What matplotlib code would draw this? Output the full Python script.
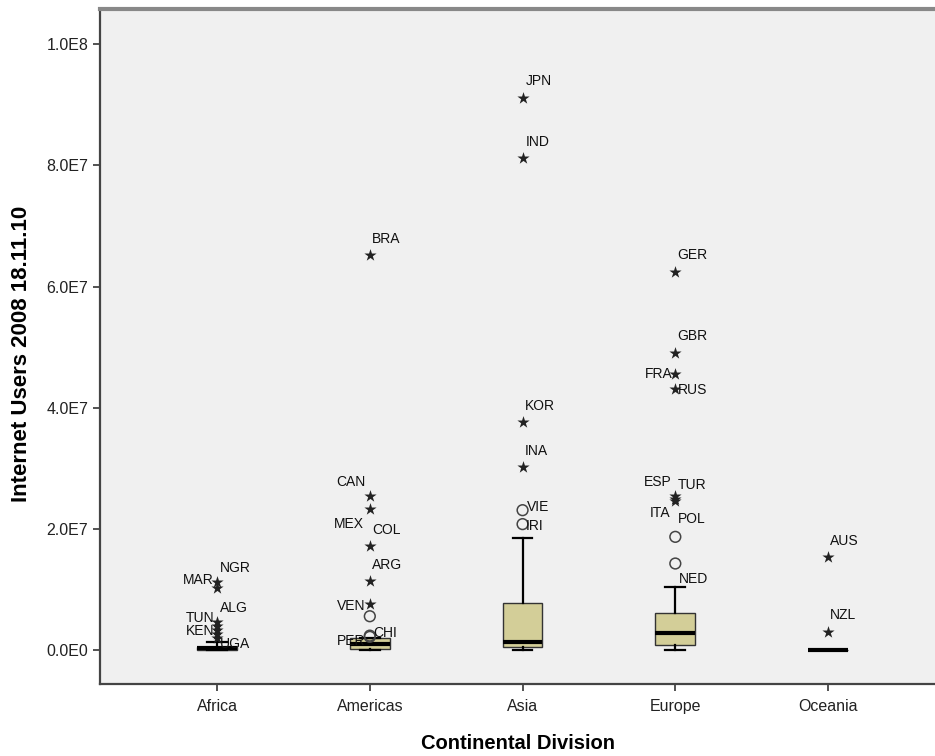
import matplotlib
matplotlib.use("Agg")
import matplotlib.pyplot as plt

plt.rcParams["font.family"] = ["Liberation Sans", "DejaVu Sans"]

# categories and box statistics (values in internet users)
continents = ["Africa", "Americas", "Asia", "Europe", "Oceania"]
whisker_lo = [0.0, 0.0, 0.0, 0.0, 0.0]
q1 = [0.01e7, 0.02e7, 0.05e7, 0.09e7, 0.0]
median = [0.03e7, 0.10e7, 0.13e7, 0.29e7, 0.0]
q3 = [0.06e7, 0.20e7, 0.78e7, 0.62e7, 0.0]
whisker_hi = [0.14e7, 0.20e7, 1.85e7, 1.04e7, 0.0]

# extreme values (stars)
star_cat = [0, 0, 0, 0, 0, 0, 0,
            1, 1, 1, 1, 1, 1,
            2, 2, 2, 2,
            3, 3, 3, 3, 3, 3, 3,
            4, 4]
star_val = [1.12e7, 1.03e7, 0.47e7, 0.40e7, 0.33e7, 0.26e7, 0.20e7,
            6.52e7, 2.54e7, 2.33e7, 1.72e7, 1.14e7, 0.76e7,
            9.11e7, 8.12e7, 3.76e7, 3.02e7,
            6.24e7, 4.90e7, 4.55e7, 4.31e7, 2.54e7, 2.50e7, 2.46e7,
            1.53e7, 0.30e7]
star_lab = ["NGR", "MAR", "ALG", "TUN", "", "KEN", "UGA",
            "BRA", "CAN", "MEX", "COL", "ARG", "VEN",
            "JPN", "IND", "KOR", "INA",
            "GER", "GBR", "FRA", "RUS", "ESP", "TUR", "ITA",
            "AUS", "NZL"]

# outliers (circles)
circ_cat = [1, 1, 1, 2, 2, 3, 3]
circ_val = [0.56e7, 0.24e7, 0.22e7, 2.31e7, 2.08e7, 1.87e7, 1.43e7]
circ_lab = ["", "CHI", "PER", "VIE", "IRI", "POL", "NED"]

yticks = [0, 2e7, 4e7, 6e7, 8e7, 1e8]
ytick_labels = ["0.0E0", "2.0E7", "4.0E7", "6.0E7", "8.0E7", "1.0E8"]

# label placement (pixel offsets from the point, alignment)
place = {
    "NGR": (3, 14, "left"), "MAR": (-3, 8, "right"), "ALG": (3, 14, "left"),
    "TUN": (-3, 8, "right"), "KEN": (-3, 3, "right"), "UGA": (3, -6, "left"),
    "BRA": (2, 16, "left"), "CAN": (-4, 14, "right"), "MEX": (-6, -15, "right"),
    "COL": (2, 16, "left"), "ARG": (2, 16, "left"), "VEN": (-4, -2, "right"),
    "JPN": (3, 17, "left"), "IND": (3, 16, "left"), "KOR": (2, 16, "left"),
    "INA": (2, 16, "left"),
    "GER": (2, 17, "left"), "GBR": (2, 17, "left"), "FRA": (-3, 0, "right"),
    "RUS": (3, -1, "left"), "ESP": (-4, 14, "right"), "TUR": (2, 14, "left"),
    "ITA": (-5, -12, "right"), "AUS": (2, 16, "left"), "NZL": (2, 17, "left"),
    "CHI": (3, 3, "left"), "PER": (-4, -4, "right"), "VIE": (4, 3, "left"),
    "IRI": (3, -2, "left"), "POL": (3, 18, "left"), "NED": (4, -15, "left"),
}

fig = plt.figure(figsize=(9.35, 7.56), dpi=100)
ax = fig.add_axes([0.107, 0.095, 0.893, 0.893])
ax.set_facecolor("#f0f0f0")

positions = list(range(1, len(continents) + 1))
stats = []
for i, name in enumerate(continents):
    stats.append({"label": name, "whislo": whisker_lo[i], "q1": q1[i],
                  "med": median[i], "q3": q3[i], "whishi": whisker_hi[i],
                  "fliers": []})

ax.bxp(stats, positions=positions, widths=0.26, patch_artist=True,
       showfliers=False,
       boxprops=dict(facecolor="#d3ce98", edgecolor="#333333", linewidth=1.0),
       medianprops=dict(color="black", linewidth=3),
       whiskerprops=dict(color="black", linewidth=1.6),
       capprops=dict(color="black", linewidth=1.6),
       capwidths=0.13)

sx = [positions[c] for c in star_cat]
ax.scatter(sx, star_val, marker="*", s=85, color="#222222", zorder=4, linewidths=0)
cx = [positions[c] for c in circ_cat]
ax.scatter(cx, circ_val, marker="o", s=60, facecolors="none",
           edgecolors="#444444", linewidths=1.1, zorder=4)

for x, v, lab in list(zip(sx, star_val, star_lab)) + list(zip(cx, circ_val, circ_lab)):
    if not lab:
        continue
    dx, dy, ha = place[lab]
    ax.annotate(lab, (x, v), xytext=(dx, dy), textcoords="offset pixels",
                ha=ha, va="center", fontsize=10, color="#111111", zorder=5)

ax.set_xlim(0.234, 5.70)
ax.set_ylim(-0.561e7, 10.578e7)
ax.set_xticks(positions)
ax.set_xticklabels(continents, fontsize=11.5, color="#222222")
ax.set_yticks(yticks)
ax.set_yticklabels(ytick_labels, fontsize=11.5, color="#222222")
ax.tick_params(axis="both", direction="out", length=5, width=1.3, color="#444444")
ax.tick_params(axis="x", pad=6)

ax.set_xlabel("Continental Division", fontsize=14.5, fontweight="bold", labelpad=14)
ax.set_ylabel("Internet Users 2008 18.11.10", fontsize=16, fontweight="bold")
ax.yaxis.set_label_coords(-0.081, 0.49)

for side in ["left", "bottom"]:
    ax.spines[side].set_color("#444444")
    ax.spines[side].set_linewidth(1.6)
ax.spines["top"].set_color("#888888")
ax.spines["top"].set_linewidth(3)
ax.spines["right"].set_visible(False)

fig.savefig("out.png", dpi=100, facecolor="white")
